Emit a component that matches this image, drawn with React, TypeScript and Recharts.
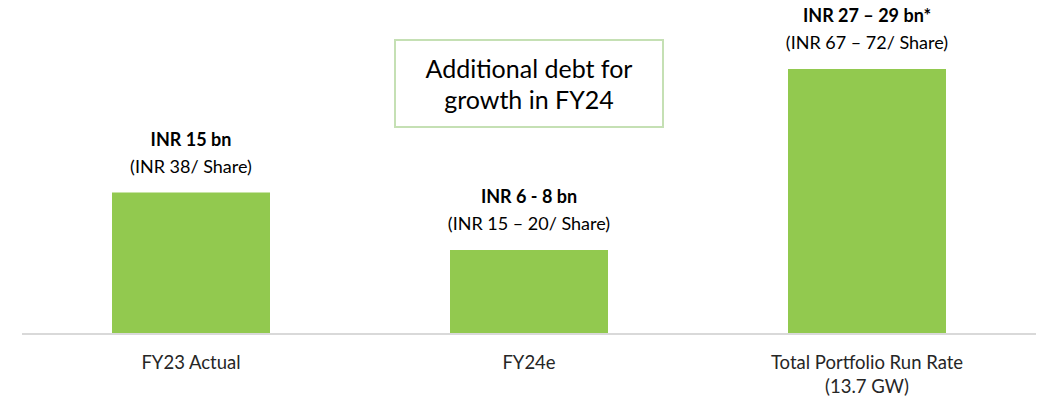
import React from 'react';
import { BarChart, Bar, XAxis, YAxis, LabelList } from 'recharts';

const categories = ['FY23 Actual', 'FY24e', 'Total Portfolio Run Rate\n(13.7 GW)'];
const values = [15, 8.9, 28.1];
const headlines = ['INR 15 bn', 'INR 6 - 8 bn', 'INR 27 – 29 bn*'];
const perShare = ['(INR 38/ Share)', '(INR 15 – 20/ Share)', '(INR 67 – 72/ Share)'];
const annotationLines = ['Additional debt for', 'growth in FY24'];
const annotationIndex = 1;

const data = categories.map((c, i) => ({ name: c, value: values[i] }));

const FONT = 'Lato, "Open Sans", sans-serif';

const Tick = (props: any) => {
  const { x, y, payload } = props;
  const lines = String(payload.value).split('\n');
  return (
    <g>
      {lines.map((l, i) => (
        <text
          key={i}
          x={x}
          y={y + 27 + i * 24}
          textAnchor="middle"
          fontFamily={FONT}
          fontSize={18.5}
          fill="#262626"
        >
          {l}
        </text>
      ))}
    </g>
  );
};

const BarLabel = (props: any) => {
  const { x, y, width, index } = props;
  const cx = x + width / 2;
  return (
    <g>
      <text x={cx} y={y - 47} textAnchor="middle" fontFamily={FONT} fontSize={18} fontWeight={700} fill="#000">
        {headlines[index]}
      </text>
      <text x={cx} y={y - 20} textAnchor="middle" fontFamily={FONT} fontSize={18} fill="#000">
        {perShare[index]}
      </text>
      {index === annotationIndex && (
        <g>
          <rect x={cx - 134} y={40} width={268} height={87} fill="#fff" stroke="#c5e0b4" strokeWidth={2} />
          {annotationLines.map((l, i) => (
            <text
              key={i}
              x={cx}
              y={78 + i * 31}
              textAnchor="middle"
              fontFamily={FONT}
              fontSize={25}
              fill="#000"
            >
              {l}
            </text>
          ))}
        </g>
      )}
    </g>
  );
};

export default function App() {
  return (
    <div style={{ position: 'absolute', left: 0, top: 0, width: 1043, height: 401, background: '#fff' }}>
      <BarChart
        width={1043}
        height={401}
        data={data}
        margin={{ top: 51, right: 7, left: 22, bottom: 0 }}
      >
        <XAxis
          dataKey="name"
          axisLine={{ stroke: '#d9d9d9', strokeWidth: 2 }}
          tickLine={false}
          tick={<Tick />}
          height={67}
          interval={0}
        />
        <YAxis hide domain={[0, 30]} />
        <Bar dataKey="value" fill="#92c94f" barSize={158} isAnimationActive={false}>
          <LabelList dataKey="value" content={<BarLabel />} />
        </Bar>
      </BarChart>
    </div>
  );
}
